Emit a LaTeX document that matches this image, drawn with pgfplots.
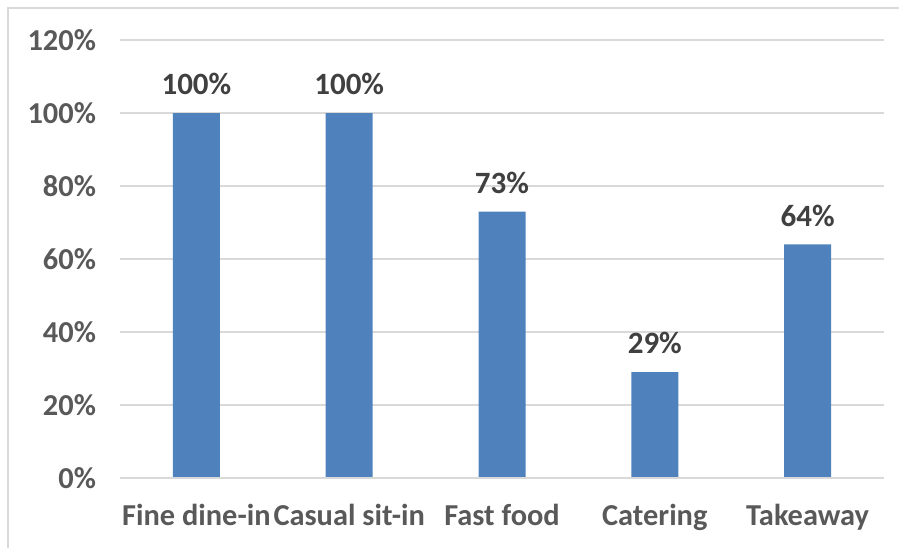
\documentclass[border=0pt]{standalone}
\usepackage{pgfplots}
\pgfplotsset{compat=1.18}
\usepackage{fontspec}
\setmainfont{Carlito}
\definecolor{barblue}{HTML}{4F81BD}
\definecolor{gridgray}{HTML}{D9D9D9}
\definecolor{ticktext}{HTML}{595959}
\definecolor{labeltext}{HTML}{404040}
\begin{document}
\begin{tikzpicture}
\useasboundingbox (0,0) rectangle (449.5pt,274pt);
\draw[gridgray, line width=0.8pt] (4pt,0) -- (4pt,270pt) -- (449.5pt,270pt);
\begin{axis}[
  at={(60pt,35pt)}, anchor=south west,
  scale only axis, width=382pt, height=219pt,
  ybar, bar width=23.5pt,
  xmin=-0.5, xmax=4.5, ymin=0, ymax=120,
  xtick=data,
  xticklabels={Fine dine-in,Casual sit-in,Fast food,Catering,Takeaway},
  ytick={0,20,...,120},
  yticklabel={\pgfmathprintnumber{\tick}\%},
  /pgf/number format/assume math mode=true,
  ymajorgrids, grid style={gridgray, line width=0.6pt},
  axis line style={draw=none},
  axis x line*=bottom, axis y line*=left,
  tick style={draw=none},
  every tick label/.style={font=\fontsize{15.2}{18}\selectfont\bfseries, text=ticktext},
  xticklabel style={yshift=-5.5pt},
  yticklabel style={xshift=-8.5pt},
  nodes near coords={\pgfmathprintnumber{\pgfplotspointmeta}\%},
  every node near coord/.append style={font=\fontsize{15.5}{18}\selectfont\bfseries, text=labeltext, yshift=5.5pt},
  clip=false,
]
\addplot[fill=barblue, draw=none] coordinates {(0,100) (1,100) (2,73) (3,29) (4,64)};
\draw[gridgray, line width=1pt] (axis cs:-0.5,0) -- (axis cs:4.5,0);
\end{axis}
\end{tikzpicture}
\end{document}
